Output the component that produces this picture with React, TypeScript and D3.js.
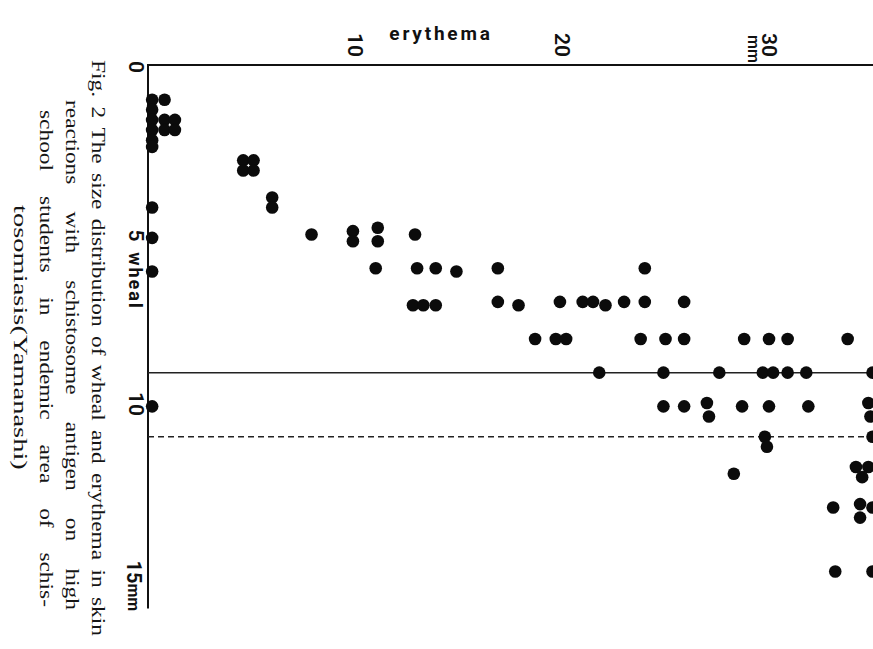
import * as d3 from 'd3';
import { useRef, useEffect } from 'react';

// erythema (mm) and wheal (mm) of each student
const erythema = [
  0.2, 0.8, 0.2, 0.2, 0.8, 1.3, 0.2, 0.8, 1.3, 0.2, 0.2, 0.2, 0.2, 0.2, 0.2,
  4.6, 5.1, 4.6, 5.1, 6.0, 6.0, 7.9, 9.9, 9.9, 11.1, 11.1, 11.0, 12.9, 13.0, 13.9,
  14.9, 12.8, 13.3, 13.9, 16.9, 16.9, 17.9, 19.9, 21.0, 21.5, 22.1, 23.0, 24.0, 25.9, 24.0,
  18.7, 19.7, 20.2, 23.8, 25.0, 25.9, 28.8, 30.0, 30.9, 33.8,
  21.8, 24.9, 27.6, 29.7, 30.2, 30.9, 31.8, 35.0,
  24.9, 25.9, 27.0, 27.1, 28.7, 30.0, 31.9, 34.8, 34.9,
  29.8, 29.9, 35.0, 28.3, 34.2, 34.8, 34.5, 33.1, 34.4, 34.4, 35.0, 33.2, 35.0,
];
const wheal = [
  1.0, 1.0, 1.3, 1.6, 1.6, 1.6, 1.9, 1.9, 1.9, 2.2, 2.4, 4.2, 5.1, 6.1, 10.1,
  2.8, 2.8, 3.1, 3.1, 3.9, 4.2, 5.0, 4.9, 5.2, 4.8, 5.2, 6.0, 5.0, 6.0, 6.0,
  6.1, 7.1, 7.1, 7.1, 6.0, 7.0, 7.1, 7.0, 7.0, 7.0, 7.1, 7.0, 7.0, 7.0, 6.0,
  8.1, 8.1, 8.1, 8.1, 8.1, 8.1, 8.1, 8.1, 8.1, 8.1,
  9.1, 9.1, 9.1, 9.1, 9.1, 9.1, 9.1, 9.1,
  10.1, 10.1, 10.0, 10.4, 10.1, 10.1, 10.1, 10.0, 10.4,
  11.0, 11.3, 11.0, 12.1, 11.9, 11.9, 12.2, 13.1, 13.0, 13.4, 13.1, 15.0, 15.0,
];

const erythemaTicks = [10, 20, 30];
const whealTicks = [0, 5, 10];
const solidCutoff = [9.1];
const dashedCutoff = [11.0];

const captionLines = [
  'Fig. 2 The size distribution of wheal and erythema in skin',
  'reactions with schistosome antigen on high',
  'school students in endemic area of schis-',
  'tosomiasis(Yamanashi)',
];

const W = 873;
const H = 649;
const sans = 'Roboto, "DejaVu Sans", sans-serif';

export default function App() {
  const svgRef = useRef<SVGSVGElement>(null);

  useEffect(() => {
    const svg = d3.select(svgRef.current);
    svg.selectAll('*').remove();

    const x = d3.scaleLinear().domain([0, 35]).range([148, 872.5]);
    const y = d3.scaleLinear().domain([0, 16]).range([66, 605.2]);

    svg.append('rect').attr('width', W).attr('height', H).attr('fill', '#fff');

    // axes: erythema along the top, wheal down the left side
    svg.append('line')
      .attr('x1', x(0)).attr('x2', x(35.1))
      .attr('y1', y(0) - 1).attr('y2', y(0) - 1)
      .attr('stroke', '#111').attr('stroke-width', 2);
    svg.append('line')
      .attr('x1', x(0)).attr('x2', x(0))
      .attr('y1', y(0) - 2).attr('y2', y(16.1))
      .attr('stroke', '#111').attr('stroke-width', 2);

    // cutoff lines
    svg.selectAll('.solid-cut')
      .data(solidCutoff)
      .join('line')
      .attr('class', 'solid-cut')
      .attr('x1', x(0)).attr('x2', x(35.1))
      .attr('y1', d => y(d)).attr('y2', d => y(d))
      .attr('stroke', '#222').attr('stroke-width', 1.5);
    svg.selectAll('.dash-cut')
      .data(dashedCutoff)
      .join('line')
      .attr('class', 'dash-cut')
      .attr('x1', x(0)).attr('x2', x(35.1))
      .attr('y1', d => y(d)).attr('y2', d => y(d))
      .attr('stroke', '#222').attr('stroke-width', 1.4)
      .attr('stroke-dasharray', '6,4');

    // dots
    svg.selectAll('.dot')
      .data(d3.range(erythema.length))
      .join('circle')
      .attr('class', 'dot')
      .attr('cx', i => x(erythema[i]))
      .attr('cy', i => y(wheal[i]))
      .attr('r', 6.3)
      .attr('fill', '#0b0b0b');

    // rotated tick labels (text turned 90deg clockwise)
    const rot = (px: number, py: number) => `translate(${px},${py}) rotate(90)`;

    svg.selectAll('.e-tick')
      .data(erythemaTicks)
      .join('text')
      .attr('class', 'e-tick')
      .attr('transform', d => rot(x(d), 45))
      .attr('text-anchor', 'middle')
      .attr('dominant-baseline', 'central')
      .style('font-family', sans)
      .style('font-size', '21px')
      .style('font-weight', 600)
      .attr('fill', '#111')
      .text(d => d);

    svg.append('text')
      .attr('transform', rot(x(30) - 16, 35))
      .attr('dominant-baseline', 'central')
      .style('font-family', sans)
      .style('font-size', '16px')
      .style('font-weight', 600)
      .attr('fill', '#111')
      .text('mm');

    svg.selectAll('.w-tick')
      .data(whealTicks)
      .join('text')
      .attr('class', 'w-tick')
      .attr('transform', d => rot(136, y(d) + 1))
      .attr('text-anchor', 'middle')
      .attr('dominant-baseline', 'central')
      .style('font-family', sans)
      .style('font-size', '21px')
      .style('font-weight', 600)
      .attr('fill', '#111')
      .text(d => d);

    const last = svg.append('text')
      .attr('transform', rot(134, y(15) - 11))
      .attr('dominant-baseline', 'central')
      .style('font-family', sans)
      .style('font-weight', 700)
      .attr('fill', '#111');
    last.append('tspan').style('font-size', '20px').text('15');
    last.append('tspan').style('font-size', '16px').text('mm');

    svg.append('text')
      .attr('transform', rot(135, 281))
      .attr('text-anchor', 'middle')
      .attr('dominant-baseline', 'central')
      .style('font-family', sans)
      .style('font-size', '18px')
      .style('font-weight', 700)
      .style('letter-spacing', '2px')
      .attr('fill', '#111')
      .text('wheal');

    svg.append('text')
      .attr('x', 441)
      .attr('y', 40)
      .attr('text-anchor', 'middle')
      .style('font-family', sans)
      .style('font-size', '19px')
      .style('font-weight', 700)
      .style('letter-spacing', '2.8px')
      .attr('fill', '#111')
      .text('erythema');

    // caption, set sideways like the printed page, lines justified
    const layout = [
      { bx: 92, y0: 60, y1: 636, justify: true },
      { bx: 66, y0: 100, y1: 610, justify: true },
      { bx: 40, y0: 110, y1: 607, justify: true },
      { bx: 14, y0: 205, y1: 470, justify: false },
    ];
    const fs = 19.5;
    const space = fs * 0.25;
    const wide = 1.2;
    captionLines.forEach((line, i) => {
      const L = layout[i];
      const g = svg.append('g').attr('transform', rot(L.bx, L.y0));
      const inner = g.append('g');
      const words = line.split(' ');
      const nodes = words.map(w => inner.append('text')
        .style('font-family', '"Liberation Serif", "Times New Roman", serif')
        .style('font-size', `${fs}px`)
        .attr('fill', '#151515')
        .text(w));
      const widths = nodes.map(n => (n.node() as SVGTextElement).getComputedTextLength());
      const sum = d3.sum(widths);
      const total = L.y1 - L.y0;
      let s = wide;
      let gap = space;
      if (L.justify && words.length > 1) {
        gap = (total / s - sum) / (words.length - 1);
        if (gap < space) {
          s = total / (sum + space * (words.length - 1));
          gap = space;
        }
      } else {
        s = total / (sum + space * (words.length - 1));
      }
      inner.attr('transform', `scale(${s},1)`);
      let pos = 0;
      nodes.forEach((n, k) => {
        n.attr('x', pos);
        pos += widths[k] + gap;
      });
    });
  }, []);

  return (
    <svg
      ref={svgRef}
      width={W}
      height={H}
      style={{ position: 'absolute', left: 0, top: 0, display: 'block' }}
    />
  );
}
